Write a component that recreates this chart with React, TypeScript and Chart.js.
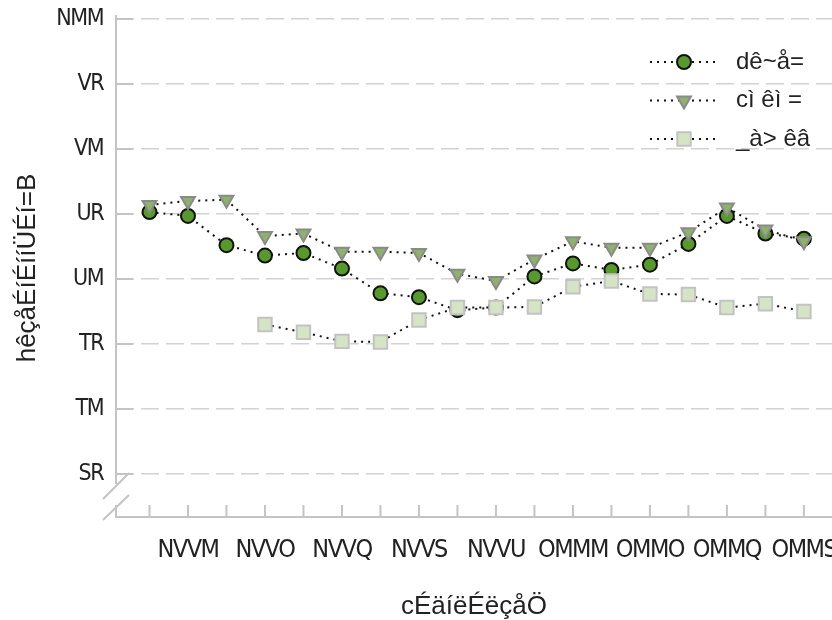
import { useEffect, useRef } from 'react';
import { Chart, registerables } from 'chart.js';

Chart.register(...registerables);

// ---- data ----
const years = [1989, 1990, 1991, 1992, 1993, 1994, 1995, 1996, 1997, 1998, 1999, 2000, 2001, 2002, 2003, 2004, 2005, 2006];
const seriesA = [85.15, 84.85, 82.6, 81.8, 82.0, 80.8, 78.9, 78.6, 77.6, 77.8, 80.2, 81.2, 80.7, 81.1, 82.7, 84.85, 83.5, 83.1];
const seriesB = [85.7, 86.0, 86.1, 83.3, 83.5, 82.1, 82.1, 82.0, 80.4, 79.85, 81.5, 82.9, 82.4, 82.4, 83.6, 85.5, 83.8, 82.9];
const seriesC = [null, null, null, 76.5, 75.9, 75.2, 75.15, 76.85, 77.8, 77.8, 77.85, 79.4, 79.85, 78.85, 78.8, 77.8, 78.1, 77.5];
const seriesNames = ['dê~å=', 'cì êì =', '_à> êâ'];

const xTickYears = [1990, 1992, 1994, 1996, 1998, 2000, 2002, 2004, 2006];
const xTickLabels = ['NVVM', 'NVVO', 'NVVQ', 'NVVS', 'NVVU', 'OMMM', 'OMMO', 'OMMQ', 'OMMS'];
const yTickValues = [65, 70, 75, 80, 85, 90, 95, 100];
const yTickLabels = ['SR', 'TM', 'TR', 'UM', 'UR', 'VM', 'VR', 'NMM'];
const xTitle = 'cÉäíëÉëçåÖ';
const yTitle = 'hêçåÉíÉííÜÉí=B';

const FONT_REG = '"Liberation Sans", Arial, sans-serif';
const FONT_NARROW = '"DejaVu Sans Condensed", "Liberation Sans Narrow", "Liberation Sans", sans-serif';
const TEXT = '#222222';
const AXIS = '#c4c4c4';
const GRID = '#d2d2d2';

const styles = [
  { shape: 'circle', fill: '#579a2b', stroke: '#111111', radius: 7, rotation: 0 },
  { shape: 'triangle', fill: '#8db36a', stroke: '#8a8a8a', radius: 8, rotation: 180 },
  { shape: 'rect', fill: '#d6e4c6', stroke: '#c2c2c2', radius: 9.5, rotation: 0 },
];

function drawMarker(ctx: CanvasRenderingContext2D, s: any, x: number, y: number) {
  ctx.save();
  ctx.fillStyle = s.fill;
  ctx.strokeStyle = s.stroke;
  ctx.lineWidth = 2;
  ctx.setLineDash([]);
  ctx.beginPath();
  if (s.shape === 'circle') {
    ctx.arc(x, y, s.radius, 0, Math.PI * 2);
  } else if (s.shape === 'triangle') {
    let rad = (s.rotation * Math.PI) / 180;
    ctx.moveTo(x + Math.sin(rad) * s.radius, y - Math.cos(rad) * s.radius);
    rad += (2 * Math.PI) / 3;
    ctx.lineTo(x + Math.sin(rad) * s.radius, y - Math.cos(rad) * s.radius);
    rad += (2 * Math.PI) / 3;
    ctx.lineTo(x + Math.sin(rad) * s.radius, y - Math.cos(rad) * s.radius);
    ctx.closePath();
  } else {
    const h = Math.SQRT1_2 * s.radius;
    ctx.rect(x - h, y - h, 2 * h, 2 * h);
  }
  ctx.fill();
  ctx.stroke();
  ctx.restore();
}

const decoPlugin = {
  id: 'deco',
  beforeDatasetsDraw(chart: any) {
    const { ctx, chartArea: a, scales } = chart;
    const xs = scales.x;
    const ys = scales.y;
    const L = a.left;
    const B = a.bottom;
    ctx.save();
    ctx.strokeStyle = AXIS;
    ctx.lineWidth = 2;
    ctx.setLineDash([]);
    ctx.beginPath();
    ctx.moveTo(L, a.top - 4);
    ctx.lineTo(L, B - 33);
    ctx.moveTo(L, B - 12);
    ctx.lineTo(L, B);
    ctx.moveTo(L - 1, B);
    ctx.lineTo(a.right, B);
    ctx.stroke();
    ctx.beginPath();
    for (const v of yTickValues) {
      const y = ys.getPixelForValue(v);
      ctx.moveTo(L, y);
      ctx.lineTo(L + 17, y);
    }
    for (const yr of years) {
      const x = xs.getPixelForValue(yr);
      ctx.moveTo(x, B);
      ctx.lineTo(x, B - 12);
    }
    ctx.stroke();
    ctx.beginPath();
    ctx.moveTo(L + 13, B - 44);
    ctx.lineTo(L - 13, B - 18);
    ctx.moveTo(L + 13, B - 22);
    ctx.lineTo(L - 13, B + 3);
    ctx.stroke();
    ctx.restore();
  },
  afterDatasetsDraw(chart: any) {
    // tick labels (drawn in a later layer) use a tighter letter spacing
    (chart.ctx as any).letterSpacing = '-1.5px';
  },
  afterDraw(chart: any) {
    const { ctx } = chart;
    (ctx as any).letterSpacing = '0px';
    ctx.save();
    chart.data.datasets.forEach((ds: any, i: number) => {
      const s = styles[i];
      const y = 62 + i * 38.5;
      ctx.strokeStyle = '#111111';
      ctx.lineWidth = 2;
      ctx.setLineDash([2, 5]);
      ctx.beginPath();
      ctx.moveTo(650, y);
      ctx.lineTo(717, y);
      ctx.stroke();
      drawMarker(ctx, s, 684, y);
      ctx.fillStyle = TEXT;
      ctx.font = '24px ' + FONT_REG;
      ctx.textBaseline = 'middle';
      ctx.textAlign = 'left';
      ctx.fillText(ds.label, 736, y);
    });
    ctx.restore();
  },
};

export default function App() {
  const ref = useRef<HTMLCanvasElement | null>(null);

  useEffect(() => {
    if (!ref.current) return;
    const mk = (vals: (number | null)[]) => years.map((yr, i) => ({ x: yr, y: vals[i] }));
    const all = [seriesA, seriesB, seriesC];
    const chart = new Chart(ref.current, {
      type: 'line',
      data: {
        datasets: all.map((vals, i) => ({
          label: seriesNames[i],
          data: mk(vals),
          borderColor: '#111111',
          borderWidth: 2,
          borderDash: [2, 5],
          fill: false,
          tension: 0,
          spanGaps: false,
          pointStyle: styles[i].shape,
          pointRotation: styles[i].rotation,
          pointRadius: styles[i].radius,
          pointHoverRadius: styles[i].radius,
          pointBackgroundColor: styles[i].fill,
          pointBorderColor: styles[i].stroke,
          pointBorderWidth: 2,
          clip: false,
          order: 2 - i,
        })) as any,
      },
      options: {
        animation: false,
        responsive: false,
        devicePixelRatio: 1,
        layout: { autoPadding: false, padding: { top: 19, right: 0, left: 0, bottom: 0 } },
        plugins: { legend: { display: false }, tooltip: { enabled: false } },
        scales: {
          x: {
            type: 'linear',
            min: 1988.13,
            max: 2006.73,
            afterBuildTicks: (scale: any) => {
              scale.ticks = years.map((v) => ({ value: v }));
            },
            afterFit: (scale: any) => {
              scale.height = 103;
              scale.paddingLeft = 0;
              scale.paddingRight = 0;
            },
            grid: { display: false, drawTicks: false },
            border: { display: false },
            ticks: {
              z: 1,
              autoSkip: false,
              maxRotation: 0,
              minRotation: 0,
              padding: 18,
              color: TEXT,
              font: { family: FONT_NARROW, size: 25 },
              callback: (value: any) => {
                const i = xTickYears.indexOf(Number(value));
                return i >= 0 ? xTickLabels[i] : '';
              },
            },
            title: {
              display: true,
              text: xTitle,
              color: TEXT,
              font: { family: FONT_REG, size: 26, lineHeight: 1 },
              padding: { top: 0, bottom: 0 },
            },
          },
          y: {
            type: 'linear',
            min: 61.69,
            max: 100,
            afterBuildTicks: (scale: any) => {
              scale.ticks = yTickValues.map((v) => ({ value: v }));
            },
            afterFit: (scale: any) => {
              scale.width = 116;
              scale.paddingTop = 0;
              scale.paddingBottom = 0;
            },
            grid: {
              display: true,
              drawTicks: false,
              color: GRID,
              lineWidth: 1.5,
            },
            border: { display: false, dash: [18, 7] },
            ticks: {
              z: 1,
              padding: 13,
              color: TEXT,
              font: { family: FONT_NARROW, size: 23 },
              callback: (value: any) => {
                const i = yTickValues.indexOf(Number(value));
                return i >= 0 ? yTickLabels[i] : '';
              },
            },
            title: {
              display: true,
              text: yTitle,
              color: TEXT,
              font: { family: FONT_REG, size: 26, lineHeight: 1.2 },
              padding: { top: 12, bottom: 0 },
            },
          },
        },
      },
      plugins: [decoPlugin],
    } as any);
    return () => chart.destroy();
  }, []);

  return (
    <div style={{ position: 'fixed', left: 0, top: 0, width: 832, height: 620, background: '#ffffff' }}>
      <canvas ref={ref} width={832} height={620} style={{ display: 'block', width: 832, height: 620 }} />
    </div>
  );
}
